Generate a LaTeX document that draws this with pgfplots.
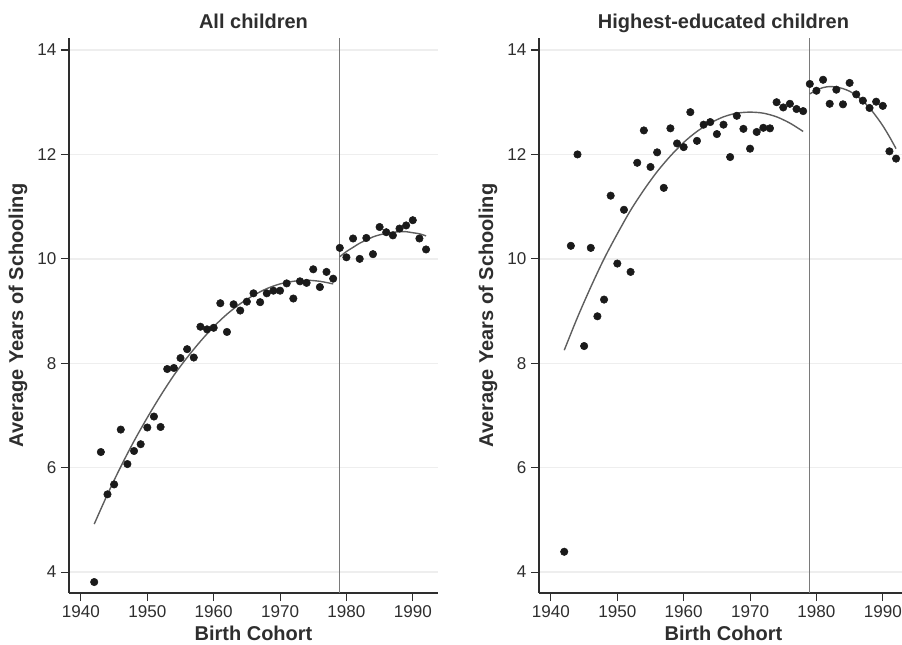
\documentclass[border=0pt]{standalone}
\usepackage{fontspec}
\setmainfont{Liberation Sans}
\usepackage{pgfplots}
\usepackage{pgfplotstable}
\pgfplotsset{compat=1.18}
\definecolor{dotc}{HTML}{1A1A1A}
\definecolor{fitc}{HTML}{5E5E5E}
\definecolor{vlinec}{HTML}{7A7A7A}
\definecolor{gridc}{HTML}{EEEEEE}
\definecolor{axc}{HTML}{2E2E2E}

\pgfplotstableread{
year val
1942 3.81
1943 6.30
1944 5.49
1945 5.68
1946 6.73
1947 6.07
1948 6.32
1949 6.45
1950 6.77
1951 6.98
1952 6.78
1953 7.89
1954 7.91
1955 8.10
1956 8.27
1957 8.11
1958 8.70
1959 8.65
1960 8.68
1961 9.15
1962 8.60
1963 9.13
1964 9.01
1965 9.18
1966 9.34
1967 9.17
1968 9.34
1969 9.39
1970 9.39
1971 9.53
1972 9.24
1973 9.57
1974 9.54
1975 9.80
1976 9.46
1977 9.75
1978 9.62
1979 10.21
1980 10.03
1981 10.39
1982 10.00
1983 10.40
1984 10.09
1985 10.61
1986 10.51
1987 10.45
1988 10.58
1989 10.64
1990 10.74
1991 10.39
1992 10.18
}\allchildren

\pgfplotstableread{
year val
1942 4.39
1943 10.25
1944 12.00
1945 8.33
1946 10.21
1947 8.90
1948 9.22
1949 11.21
1950 9.91
1951 10.94
1952 9.75
1953 11.84
1954 12.46
1955 11.76
1956 12.04
1957 11.36
1958 12.50
1959 12.21
1960 12.14
1961 12.81
1962 12.26
1963 12.57
1964 12.62
1965 12.39
1966 12.57
1967 11.95
1968 12.74
1969 12.49
1970 12.11
1971 12.43
1972 12.51
1973 12.50
1974 13.00
1975 12.90
1976 12.97
1977 12.87
1978 12.83
1979 13.35
1980 13.22
1981 13.43
1982 12.97
1983 13.24
1984 12.96
1985 13.37
1986 13.15
1987 13.03
1988 12.89
1989 13.01
1990 12.93
1991 12.06
1992 11.92
}\highest

\pgfplotsset{
  panel/.style={
    scale only axis,
    width=276.75pt, height=416.25pt,
    xmin=1938.2, xmax=1993.8,
    ymin=3.6, ymax=14.23,
    axis lines=left,
    axis line style={-, draw=axc, line width=0.8pt},
    xtick={1940,1950,...,1990},
    ytick={4,6,...,14},
    tick align=outside,
    major tick length=6pt,
    tick style={draw=axc, line width=0.8pt},
    /pgf/number format/1000 sep={},
    /pgf/number format/assume math mode=true,
    tick label style={font=\fontsize{12.8}{14}\selectfont, text=axc},
    ymajorgrids,
    grid style={draw=gridc, line width=1pt},
    title style={at={(axis description cs:0.5,1.002)}, anchor=base, yshift=0pt, font=\bfseries\fontsize{15}{17}\selectfont, text=axc},
    xlabel style={at={(axis description cs:0.5,-0.0847)}, anchor=base, font=\bfseries\fontsize{15}{17}\selectfont, text=axc},
    ylabel style={at={(axis description cs:-0.1382,0.5)}, anchor=center, rotate=0, font=\bfseries\fontsize{15}{17}\selectfont, text=axc},
    xlabel={Birth Cohort},
    ylabel={Average Years of Schooling},
  },
  dots/.style={only marks, mark=*, mark size=2.8pt, mark options={fill=dotc, draw=dotc}},
  fit/.style={no marks, smooth, draw=fitc, line width=1.05pt},
  vline/.style={no marks, draw=vlinec, line width=1.05pt},
}

\begin{document}
\begin{tikzpicture}
\useasboundingbox (0,0) rectangle (676.5pt,483pt);

\begin{axis}[panel, at={(51.75pt,38.25pt)}, anchor=south west, title={All children}]
\addplot[vline] coordinates {(1979,3.6) (1979,14.23)};
\addplot[dots] table[x=year, y=val] {\allchildren};
\addplot[fit] coordinates {(1942,4.92)(1944,5.49)(1946,6.02)(1948,6.51)(1950,6.96)(1952,7.38)(1954,7.77)(1956,8.11)(1958,8.42)(1960,8.70)(1962,8.94)(1964,9.14)(1966,9.30)(1968,9.43)(1970,9.52)(1972,9.57)(1974,9.59)(1976,9.57)(1978,9.52)};
\addplot[fit] coordinates {(1979,10.04)(1980,10.14)(1981,10.22)(1982,10.30)(1983,10.36)(1984,10.42)(1985,10.46)(1986,10.49)(1987,10.51)(1988,10.52)(1989,10.52)(1990,10.50)(1991,10.48)(1992,10.44)};
\end{axis}

\begin{axis}[panel, at={(404.25pt,38.25pt)}, anchor=south west, title={Highest-educated children}]
\addplot[vline] coordinates {(1979,3.6) (1979,14.23)};
\addplot[dots] table[x=year, y=val] {\highest};
\addplot[fit] coordinates {(1942,8.25)(1944,8.88)(1946,9.46)(1948,10.00)(1950,10.48)(1952,10.93)(1954,11.32)(1956,11.67)(1958,11.97)(1960,12.23)(1962,12.44)(1964,12.60)(1966,12.72)(1968,12.79)(1970,12.81)(1972,12.79)(1974,12.72)(1976,12.60)(1978,12.44)};
\addplot[fit] coordinates {(1979,13.16)(1980,13.23)(1981,13.28)(1982,13.30)(1983,13.29)(1984,13.26)(1985,13.21)(1986,13.13)(1987,13.02)(1988,12.89)(1989,12.73)(1990,12.55)(1991,12.34)(1992,12.11)};
\end{axis}
\end{tikzpicture}
\end{document}
